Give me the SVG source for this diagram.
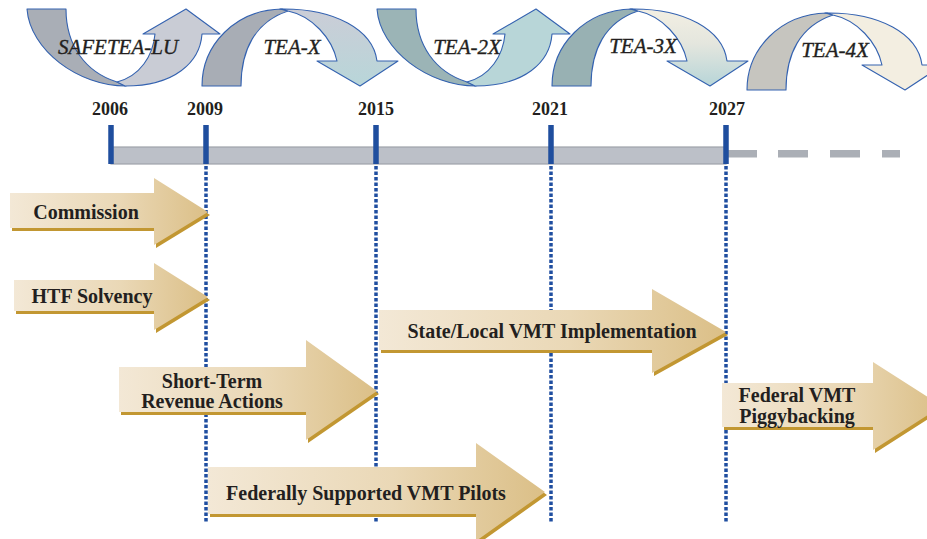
<svg xmlns="http://www.w3.org/2000/svg" xmlns:xlink="http://www.w3.org/1999/xlink" width="927" height="539" viewBox="0 0 927 539">
<style>
.phase{stroke:#3462b0;stroke-width:1.1;stroke-linejoin:round}
.plab{font-family:"Liberation Serif","DejaVu Serif",serif;font-style:italic;font-size:21px;fill:#231f20;stroke:#231f20;stroke-width:0.35;text-anchor:middle}
.year{font-family:"Liberation Serif","DejaVu Serif",serif;font-weight:bold;font-size:18px;fill:#231f20;text-anchor:middle}
.alab{font-family:"Liberation Serif","DejaVu Serif",serif;font-weight:bold;font-size:20px;fill:#231f20;text-anchor:middle}
.tick{stroke:#1f4e9e;stroke-width:5.5}
.guide{stroke:#1f4ea0;stroke-width:3.5;stroke-dasharray:3.5 2;fill:none}
.dash{fill:#abafb6}
</style>
<defs>
<linearGradient id="tan" x1="0" y1="0" x2="1" y2="0">
<stop offset="0" stop-color="#f3e8d6"/>
<stop offset="0.55" stop-color="#ead8b6"/>
<stop offset="1" stop-color="#dbbf87"/>
</linearGradient>
<linearGradient id="g2" gradientUnits="userSpaceOnUse" x1="0" y1="9" x2="0" y2="86">
<stop offset="0" stop-color="#cbcdd7"/>
<stop offset="1" stop-color="#b8d6d9"/>
</linearGradient>
<linearGradient id="g4" gradientUnits="userSpaceOnUse" x1="0" y1="9" x2="0" y2="86">
<stop offset="0" stop-color="#f3efe3"/>
<stop offset="0.45" stop-color="#e4e6de"/>
<stop offset="1" stop-color="#b7d5d8"/>
</linearGradient>
<path id="uDark" d="M27,9 L66,9 C66,45 85,72 117,82 L126,86 C78,86 30,50 27,9 Z"/>
<path id="uLight" d="M117,82 C140,76 153,56 155,34 L143,34 L186,9 L220,34 L202,34 C200,62 175,86 125,86 Z"/>
<path id="nDark" d="M202,86 L241,86 C241,50 255,22 288,11 L282,9 C235,10 202,45 202,86 Z"/>
<path id="nLight" d="M280,9 C335,8 373,30 377,61 L398,61 L360,86 L317,61 L337,61 C332,38 312,16 288,11 Z"/>
<polygon id="aCom" points="10,193 154,193 154,178 208,212 154,245 154,228 10,228"/>
<polygon id="aHtf" points="14,280 154,280 154,263 208,297 154,330 154,311 14,311"/>
<polygon id="aSht" points="119,367 306,367 306,340 377,391 306,440 306,412 119,412"/>
<polygon id="aSta" points="379,310 652,310 652,289 726,332 652,373 652,350 379,350"/>
<polygon id="aFed" points="722,383 873,383 873,362 942,406 873,450 873,427 722,427"/>
<polygon id="aPil" points="208,467 476,467 476,443 545,492 476,541 476,514 208,514"/>
</defs>

<g id="phase-tea-4x">
<use xlink:href="#nDark" transform="translate(545,4)" class="phase" fill="#c6c5bf"/>
<use xlink:href="#nLight" transform="translate(545,4)" class="phase" fill="#f3eee1"/>
<text class="plab" x="835" y="57">TEA-4X</text>
</g>
<g id="phase-tea-3x">
<use xlink:href="#nDark" transform="translate(350,0)" class="phase" fill="#98b1b3"/>
<use xlink:href="#nLight" transform="translate(350,0)" class="phase" fill="url(#g4)"/>
<text class="plab" x="643" y="53">TEA-3X</text>
</g>
<g id="phase-tea-2x">
<use xlink:href="#uDark" transform="translate(350,0)" class="phase" fill="#9bb4b6"/>
<use xlink:href="#uLight" transform="translate(350,0)" class="phase" fill="#b8d6d8"/>
<text class="plab" x="467" y="54">TEA-2X</text>
</g>
<g id="phase-tea-x">
<use xlink:href="#nDark" class="phase" fill="#a8adb5"/>
<use xlink:href="#nLight" class="phase" fill="url(#g2)"/>
<text class="plab" x="292" y="54">TEA-X</text>
</g>
<g id="phase-safetea-lu">
<use xlink:href="#uDark" class="phase" fill="#a9aeb6"/>
<use xlink:href="#uLight" class="phase" fill="#c9ccd5"/>
<text class="plab" x="118" y="54">SAFETEA-LU</text>
</g>

<g id="timeline">
<rect x="111" y="147" width="615" height="17" fill="#bcc0c8" stroke="#9ea2aa" stroke-width="1.2"/>
<rect class="dash" x="728" y="150" width="29" height="7.5"/>
<rect class="dash" x="778" y="150" width="30" height="7.5"/>
<rect class="dash" x="830" y="150" width="30" height="7.5"/>
<rect class="dash" x="882" y="150" width="18" height="7.5"/>
<line class="tick" x1="111" y1="125" x2="111" y2="164"/>
<line class="tick" x1="206" y1="125" x2="206" y2="164"/>
<line class="tick" x1="376" y1="125" x2="376" y2="164"/>
<line class="tick" x1="551" y1="125" x2="551" y2="164"/>
<line class="tick" x1="726" y1="125" x2="726" y2="164"/>
<text class="year" x="110" y="115">2006</text>
<text class="year" x="205" y="115">2009</text>
<text class="year" x="376" y="115">2015</text>
<text class="year" x="550" y="115">2021</text>
<text class="year" x="727" y="115">2027</text>
</g>

<g id="connectors">
<line class="guide" x1="206" y1="166" x2="206" y2="522"/>
<line class="guide" x1="376" y1="166" x2="376" y2="522"/>
<line class="guide" x1="551" y1="166" x2="551" y2="522"/>
<line class="guide" x1="726" y1="166" x2="726" y2="522"/>
</g>

<g id="commission">
<use xlink:href="#aCom" transform="translate(2,3)" fill="#c29732"/>
<use xlink:href="#aCom" fill="url(#tan)"/>
<text class="alab" x="86" y="219">Commission</text>
</g>
<g id="htf-solvency">
<use xlink:href="#aHtf" transform="translate(2,3)" fill="#c29732"/>
<use xlink:href="#aHtf" fill="url(#tan)"/>
<text class="alab" x="92" y="303">HTF Solvency</text>
</g>
<g id="short-term">
<use xlink:href="#aSht" transform="translate(2,3)" fill="#c29732"/>
<use xlink:href="#aSht" fill="url(#tan)"/>
<text class="alab" x="212" y="388">Short-Term</text>
<text class="alab" x="212" y="408">Revenue Actions</text>
</g>
<g id="state-local">
<use xlink:href="#aSta" transform="translate(2,3)" fill="#c29732"/>
<use xlink:href="#aSta" fill="url(#tan)"/>
<text class="alab" x="552" y="338">State/Local VMT Implementation</text>
</g>
<g id="federal-piggybacking">
<use xlink:href="#aFed" transform="translate(2,3)" fill="#c29732"/>
<use xlink:href="#aFed" fill="url(#tan)"/>
<text class="alab" x="797" y="402">Federal VMT</text>
<text class="alab" x="797" y="423">Piggybacking</text>
</g>
<g id="vmt-pilots">
<use xlink:href="#aPil" transform="translate(2,3)" fill="#c29732"/>
<use xlink:href="#aPil" fill="url(#tan)"/>
<text class="alab" x="366" y="500">Federally Supported VMT Pilots</text>
</g>
</svg>
